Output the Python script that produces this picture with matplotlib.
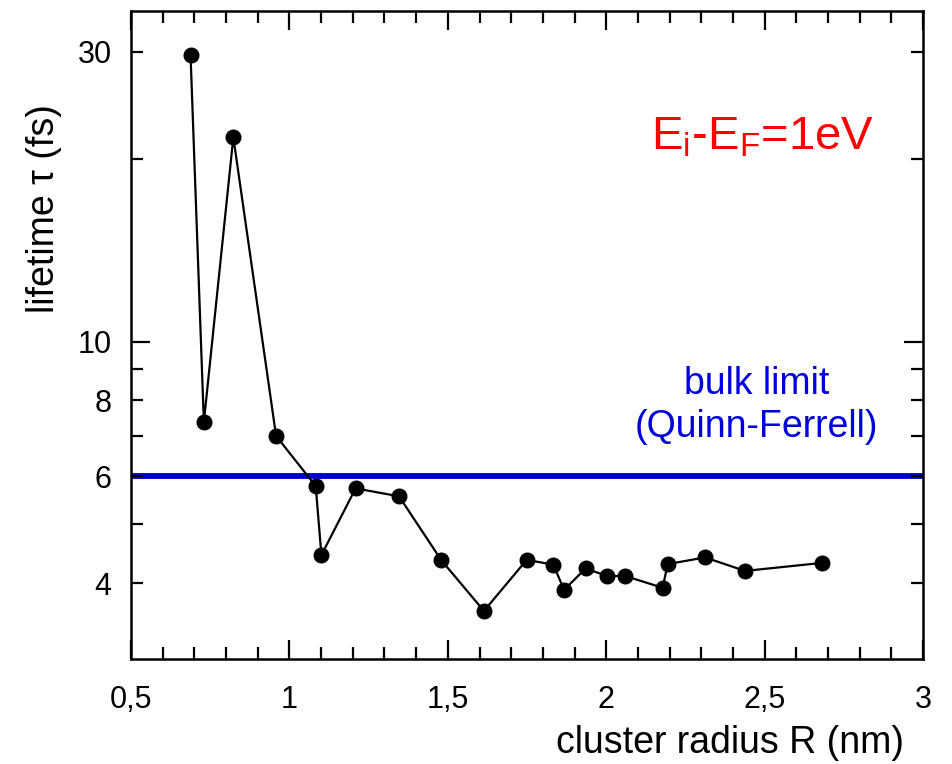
import matplotlib
matplotlib.use("Agg")
import matplotlib.pyplot as plt
from matplotlib.ticker import FixedLocator, FuncFormatter, MultipleLocator

plt.rcParams['font.family'] = ['Liberation Sans', 'DejaVu Sans']
plt.rcParams['mathtext.fontset'] = 'custom'
plt.rcParams['mathtext.rm'] = 'Liberation Sans'

# cluster radius R (nm) and lifetime tau (fs)
radius = [0.688, 0.730, 0.823, 0.958, 1.083, 1.101, 1.209, 1.346, 1.480, 1.614,
          1.749, 1.833, 1.867, 1.935, 2.002, 2.060, 2.178, 2.194, 2.312, 2.438, 2.682]
lifetime = [29.6, 7.37, 21.7, 6.99, 5.78, 4.45, 5.73, 5.56, 4.36, 3.60,
            4.37, 4.29, 3.90, 4.23, 4.11, 4.11, 3.93, 4.30, 4.41, 4.19, 4.32]
bulk_limit = 6.0

x_ticks = [0.5, 1, 1.5, 2, 2.5, 3]
x_labels = ['0,5', '1', '1,5', '2', '2,5', '3']
y_minor = [4, 5, 6, 7, 8, 9, 20, 30]
y_labels = {4: '4', 6: '6', 8: '8', 10: '10', 30: '30'}

fig = plt.figure(figsize=(9.52, 7.64), dpi=100)
ax = fig.add_axes([0.1376, 0.1374, 0.832, 0.848])

ax.axhline(bulk_limit, color='#0000cc', lw=4.2, zorder=1)
ax.plot(radius, lifetime, color='black', lw=1.6, marker='o', ms=10.5, zorder=3)

ax.set_yscale('log')
ax.set_xlim(0.5, 3)
ax.set_ylim(3, 35)

ax.xaxis.set_major_locator(FixedLocator(x_ticks))
ax.set_xticklabels(x_labels)
ax.xaxis.set_minor_locator(MultipleLocator(0.1))

fmt = FuncFormatter(lambda v, p: y_labels.get(int(round(v)), '') if abs(v - round(v)) < 1e-6 else '')
ax.yaxis.set_major_locator(FixedLocator([10]))
ax.yaxis.set_minor_locator(FixedLocator(y_minor))
ax.yaxis.set_major_formatter(fmt)
ax.yaxis.set_minor_formatter(fmt)

ax.tick_params(which='both', direction='in', top=True, right=True, width=1.6, labelsize=22)
ax.tick_params(axis='x', which='both', pad=19)
ax.tick_params(axis='y', which='both', pad=14)
ax.tick_params(which='major', length=14)
ax.tick_params(which='minor', length=8.5)
for s in ax.spines.values():
    s.set_linewidth(1.8)

ax.set_xlabel('cluster radius R (nm)', fontsize=27, ha='center', va='center')
ax.xaxis.set_label_coords(0.756, -0.13)
ax.set_ylabel('lifetime τ (fs)', fontsize=27, ha='center', va='center')
ax.yaxis.set_label_coords(-0.11, 0.695)

ax.text(0.797, 0.805, r'E$_\mathregular{i}$-E$_\mathregular{F}$=1eV', color='red',
        fontsize=34, ha='center', va='center', transform=ax.transAxes)
ax.text(0.79, 0.392, 'bulk limit\n(Quinn-Ferrell)', color='#0000dd', fontsize=27,
        ha='center', va='center', linespacing=1.25, transform=ax.transAxes)

fig.savefig('out.png', dpi=100)
